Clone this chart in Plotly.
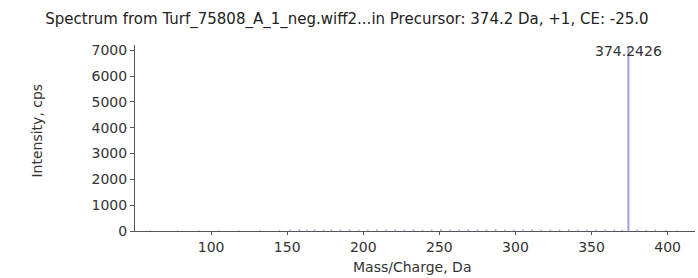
import plotly.graph_objects as go

# Data
peak_mz = [374.2426]
peak_int = [7150]
noise_mz = [60, 78, 92, 105, 118, 132, 145, 152, 158, 163, 168, 174, 179, 185, 191, 197, 203, 209, 215, 221,
            227, 233, 239, 245, 251, 257, 263, 269, 275, 281, 287, 293, 299, 305, 311, 317, 323, 329, 335,
            341, 347, 353, 359, 365, 370, 380, 386, 392, 399, 406]
noise_int = [20, 25, 30, 28, 25, 30, 35, 55, 70, 50, 65, 45, 60, 55, 70, 50, 45, 65, 55, 60,
             50, 65, 45, 55, 75, 60, 50, 65, 55, 60, 70, 50, 60, 55, 65, 45, 60, 50, 65,
             55, 45, 60, 50, 55, 45, 50, 40, 45, 35, 25]
title_text = "Spectrum from Turf_75808_A_1_neg.wiff2...in Precursor: 374.2 Da, +1, CE: -25.0"
x_ticks = [100, 150, 200, 250, 300, 350, 400]
y_ticks = [0, 1000, 2000, 3000, 4000, 5000, 6000, 7000]

def sticks(xs, ys):
    sx, sy = [], []
    for x, y in zip(xs, ys):
        sx += [x, x, None]
        sy += [0, y, None]
    return sx, sy

nx, ny = sticks(noise_mz, noise_int)
px, py = sticks(peak_mz, peak_int)

FONT = "DejaVu Sans, Arial, sans-serif"

fig = go.Figure()
fig.add_trace(go.Scatter(x=nx, y=ny, mode="lines", line=dict(color="#a4a4d8", width=1.5), hoverinfo="skip"))
fig.add_trace(go.Scatter(x=px, y=py, mode="lines", line=dict(color="#a0a0d8", width=2), hoverinfo="skip"))

fig.add_annotation(x=peak_mz[0], y=6960, text=f"{peak_mz[0]:.4f}", showarrow=False,
                   xanchor="center", yanchor="middle", font=dict(size=14, color="#333333"))

fig.add_annotation(text="Mass/Charge, Da", xref="paper", yref="paper", x=0.495, y=0,
                   yshift=-36, xanchor="center", yanchor="middle", showarrow=False,
                   font=dict(size=14, color="#333333"))
fig.add_annotation(text="Intensity, cps", xref="paper", yref="paper", x=0, y=0.54,
                   xshift=-98, xanchor="center", yanchor="middle", textangle=-90, showarrow=False,
                   font=dict(size=14, color="#333333"))

fig.update_layout(
    width=698, height=278,
    margin=dict(l=135, r=3, t=45, b=47, autoexpand=False),
    paper_bgcolor="white", plot_bgcolor="white",
    showlegend=False,
    font=dict(family=FONT, size=14, color="#333333"),
    title=dict(text=title_text, x=0.497, xanchor="center", y=1 - 19 / 278, yref="container",
               yanchor="middle", font=dict(size=15, color="#222222")),
)
fig.update_xaxes(range=[50, 418], tickvals=x_ticks, showgrid=False, zeroline=False,
                 showline=True, linecolor="#555555", linewidth=1, automargin=False,
                 ticks="outside", ticklen=3, tickcolor="#555555", tickfont=dict(size=14))
fig.update_yaxes(range=[0, 7200], tickvals=y_ticks, showgrid=False, zeroline=False,
                 showline=True, linecolor="#555555", linewidth=1, automargin=False,
                 ticks="outside", ticklen=4, tickcolor="#555555", tickfont=dict(size=14))

fig.write_html("out.html", config={"displayModeBar": False},
               post_script="document.body.style.margin='0';")
